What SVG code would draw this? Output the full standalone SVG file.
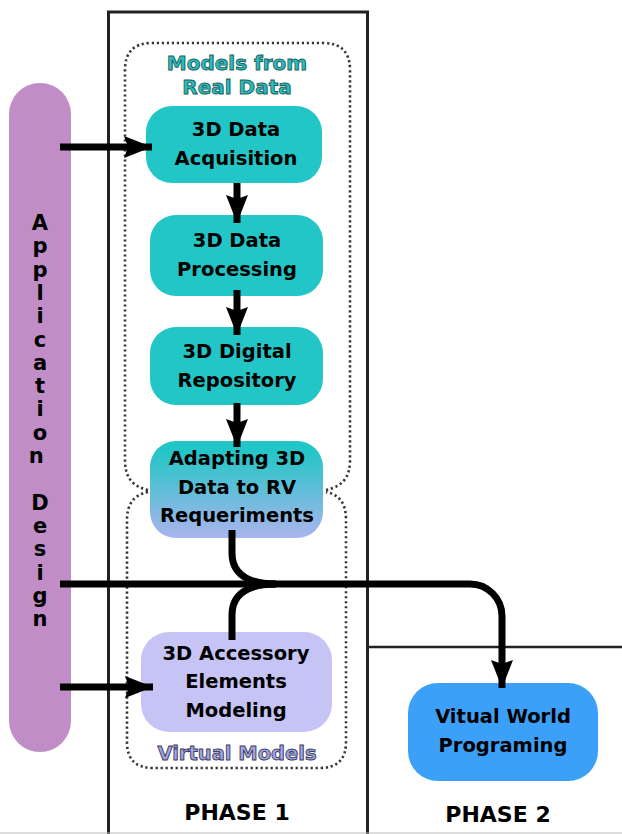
<svg xmlns="http://www.w3.org/2000/svg" width="622" height="834" viewBox="0 0 622 834">
<style>
.t{font-family:"DejaVu Sans","Liberation Sans",sans-serif;font-weight:bold;text-anchor:middle;fill:#000}
.b{font-size:19.5px}
.ph{font-size:22px}
.app{font-size:21px}
.frame{fill:none;stroke:#222;stroke-width:3}
.dot{fill:none;stroke:#333;stroke-width:2.6;stroke-dasharray:2.2 2.8}
.conn{fill:none;stroke:#000;stroke-width:7}
.lbl1{font-size:20px;fill:#2cbcbc;stroke:#1b5e5e;stroke-width:0.9}
.lbl2{font-size:19.5px;fill:#a4a4e4;stroke:#3a3a5a;stroke-width:0.9}
</style>
<defs>
<linearGradient id="g4" x1="0" y1="0" x2="0" y2="1">
<stop offset="0.1" stop-color="#22c6c6"/>
<stop offset="1" stop-color="#abb4ee"/>
</linearGradient>
<marker id="ah" markerUnits="userSpaceOnUse" markerWidth="30" markerHeight="24" refX="28" refY="11" orient="auto">
<path d="M0,0 L28,11 L0,22 L4,11 Z" fill="#000"/>
</marker>
</defs>
<rect width="622" height="834" fill="#fff"/>
<g id="phases">
<rect class="frame" x="108.5" y="12" width="259" height="830"/>
<line x1="367" y1="647" x2="622" y2="647" stroke="#222" stroke-width="2.5"/>
<line x1="0" y1="833" x2="622" y2="833" stroke="#bbb" stroke-width="1"/>
<text class="t ph" x="237" y="820">PHASE 1</text>
<text class="t ph" x="498" y="822">PHASE 2</text>
</g>
<g id="region-real">
<path class="dot" d="M148,490 C131,486 125,476 125,460 L125,70 Q125,43 152,43 L323,43 Q350,43 350,70 L350,460 C350,476 344,486 326,490"/>
<text class="t lbl1" x="237" y="70">Models from</text>
<text class="t lbl1" x="237" y="94">Real Data</text>
</g>
<g id="region-virtual">
<path class="dot" d="M148,492 C133,495 127,505 127,520 L127,742 Q127,768 153,768 L320,768 Q346,768 346,742 L346,520 C346,505 341,495 326,492"/>
<text class="t lbl2" x="237" y="760">Virtual Models</text>
</g>
<g id="app-design">
<rect x="9" y="83" width="62" height="669" rx="31" fill="#c08dc6"/>
<text class="t app" x="40">
<tspan x="40" y="230">A</tspan><tspan x="40" y="253.3">p</tspan><tspan x="40" y="276.6">p</tspan><tspan x="40" y="299.9">l</tspan><tspan x="40" y="323.2">i</tspan><tspan x="40" y="346.5">c</tspan><tspan x="40" y="369.8">a</tspan><tspan x="40" y="393.1">t</tspan><tspan x="40" y="416.4">i</tspan><tspan x="40" y="439.7">o</tspan><tspan x="40" y="463">n</tspan>
<tspan x="40" y="509.6">D</tspan><tspan x="40" y="532.9">e</tspan><tspan x="40" y="556.2">s</tspan><tspan x="40" y="579.5">i</tspan><tspan x="40" y="602.8">g</tspan><tspan x="40" y="626.1">n</tspan>
</text>
</g>
<g id="n1">
<rect x="146" y="106" width="176" height="77" rx="26" fill="#22c6c6"/>
<text class="t b" x="236" y="136">3D Data</text>
<text class="t b" x="236" y="165">Acquisition</text>
</g>
<g id="n2">
<rect x="150" y="215" width="173" height="81" rx="26" fill="#22c6c6"/>
<text class="t b" x="237" y="247">3D Data</text>
<text class="t b" x="237" y="276">Processing</text>
</g>
<g id="n3">
<rect x="150" y="327" width="173" height="78" rx="26" fill="#22c6c6"/>
<text class="t b" x="237" y="358">3D Digital</text>
<text class="t b" x="237" y="387">Repository</text>
</g>
<g id="n4">
<rect x="150" y="441" width="173" height="97" rx="26" fill="url(#g4)"/>
<text class="t b" x="237" y="465">Adapting 3D</text>
<text class="t b" x="237" y="494">Data to RV</text>
<text class="t b" x="237" y="522">Requeriments</text>
</g>
<g id="n5">
<rect x="141" y="632" width="191" height="100" rx="28" fill="#c6c4f4"/>
<text class="t b" x="236" y="660">3D Accessory</text>
<text class="t b" x="236" y="688">Elements</text>
<text class="t b" x="236" y="717">Modeling</text>
</g>
<g id="n6">
<rect x="408" y="683" width="190" height="98" rx="30" fill="#3c9ff8"/>
<text class="t b" x="503" y="723">Vitual World</text>
<text class="t b" x="503" y="752">Programing</text>
</g>
<g id="connectors">
<path class="conn" d="M60,147 L152,147" marker-end="url(#ah)"/>
<path class="conn" d="M60,687 L153,687" marker-end="url(#ah)"/>
<path class="conn" d="M237,183 L237,223" marker-end="url(#ah)"/>
<path class="conn" d="M237,290 L237,335" marker-end="url(#ah)"/>
<path class="conn" d="M237,403 L237,447" marker-end="url(#ah)"/>
<path class="conn" d="M232,530 L232,553 C232,574 248,584 276,584"/>
<path class="conn" d="M232,640 L232,615 C232,594 248,584 276,584"/>
<path class="conn" d="M60,584 L470,584 A32,32 0 0 1 502,616 L502,688" marker-end="url(#ah)"/>
</g>
</svg>
